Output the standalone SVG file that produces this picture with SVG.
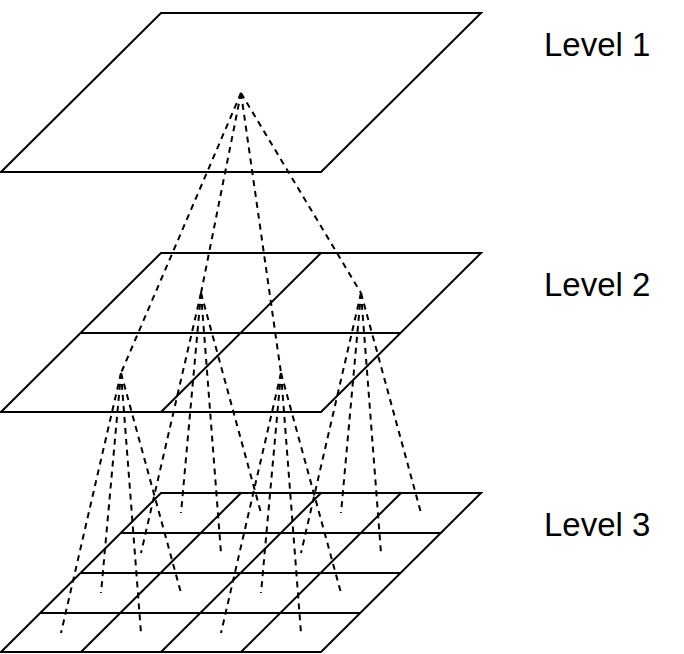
<svg xmlns="http://www.w3.org/2000/svg" width="684" height="654" viewBox="0 0 684 654">
<style>
.plane{fill:none;stroke:#000;stroke-width:2;stroke-linejoin:miter}
.grid{fill:none;stroke:#000;stroke-width:2}
.dash{fill:none;stroke:#000;stroke-width:2;stroke-dasharray:6 5}
.lbl{font-family:"Liberation Sans",Arial,sans-serif;font-size:33px;fill:#000}
</style>
<rect width="684" height="654" fill="#fff"/>
<g id="level1">
<polygon class="plane" points="161,13 481,13 321,172 1,172"/>
</g>
<g id="level2">
<polygon class="plane" points="161,253 481,253 321,412 1,412"/>
<line class="grid" x1="81" y1="333" x2="401" y2="333"/>
<line class="grid" x1="321" y1="253" x2="161" y2="412"/>
</g>
<g id="level3">
<polygon class="plane" points="161,493 481,493 321,652 1,652"/>
<line class="grid" x1="121" y1="533" x2="441" y2="533"/>
<line class="grid" x1="81" y1="573" x2="401" y2="573"/>
<line class="grid" x1="41" y1="613" x2="361" y2="613"/>
<line class="grid" x1="241" y1="493" x2="81" y2="652"/>
<line class="grid" x1="321" y1="493" x2="161" y2="652"/>
<line class="grid" x1="401" y1="493" x2="241" y2="652"/>
</g>
<g id="connectors">
<line class="dash" x1="241" y1="93" x2="201" y2="293"/>
<line class="dash" x1="241" y1="93" x2="361" y2="293"/>
<line class="dash" x1="241" y1="93" x2="121" y2="373"/>
<line class="dash" x1="241" y1="93" x2="281" y2="373"/>
<line class="dash" x1="201" y1="293" x2="181" y2="513"/>
<line class="dash" x1="201" y1="293" x2="261" y2="513"/>
<line class="dash" x1="201" y1="293" x2="141" y2="553"/>
<line class="dash" x1="201" y1="293" x2="221" y2="553"/>
<line class="dash" x1="361" y1="293" x2="341" y2="513"/>
<line class="dash" x1="361" y1="293" x2="421" y2="513"/>
<line class="dash" x1="361" y1="293" x2="301" y2="553"/>
<line class="dash" x1="361" y1="293" x2="381" y2="553"/>
<line class="dash" x1="121" y1="373" x2="101" y2="593"/>
<line class="dash" x1="121" y1="373" x2="181" y2="593"/>
<line class="dash" x1="121" y1="373" x2="61" y2="633"/>
<line class="dash" x1="121" y1="373" x2="141" y2="633"/>
<line class="dash" x1="281" y1="373" x2="261" y2="593"/>
<line class="dash" x1="281" y1="373" x2="341" y2="593"/>
<line class="dash" x1="281" y1="373" x2="221" y2="633"/>
<line class="dash" x1="281" y1="373" x2="301" y2="633"/>
</g>
<g id="labels">
<text class="lbl" x="544" y="56">Level 1</text>
<text class="lbl" x="544" y="296">Level 2</text>
<text class="lbl" x="544" y="536">Level 3</text>
</g>
</svg>
